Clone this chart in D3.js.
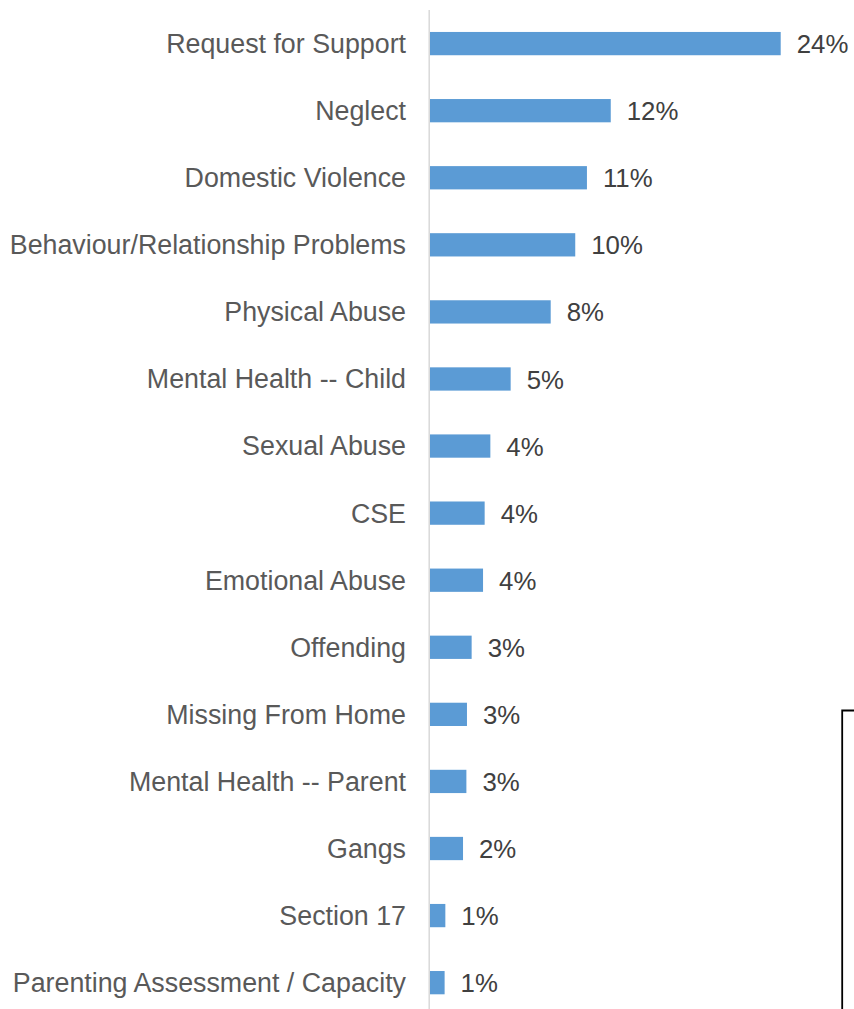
<!DOCTYPE html>
<html>
<head>
<meta charset="utf-8">
<script src="https://cdn.jsdelivr.net/npm/d3@7"></script>
<style>
  html, body { margin: 0; padding: 0; background: #fff; }
  svg { display: block; }
  text { font-family: "Liberation Sans", Arial, sans-serif; }
</style>
</head>
<body>
<svg id="chart" width="854" height="1009"></svg>
<script>
// Data
const categories = [
  "Request for Support",
  "Neglect",
  "Domestic Violence",
  "Behaviour/Relationship Problems",
  "Physical Abuse",
  "Mental Health -- Child",
  "Sexual Abuse",
  "CSE",
  "Emotional Abuse",
  "Offending",
  "Missing From Home",
  "Mental Health -- Parent",
  "Gangs",
  "Section 17",
  "Parenting Assessment / Capacity"
];
const values = [24.0, 12.37, 10.74, 9.94, 8.26, 5.52, 4.13, 3.74, 3.63, 2.85, 2.53, 2.49, 2.26, 1.05, 1.0];
const valueLabels = ["24%", "12%", "11%", "10%", "8%", "5%", "4%", "4%", "4%", "3%", "3%", "3%", "2%", "1%", "1%"];

const svg = d3.select("#chart");
const x0 = 430;

const x = d3.scaleLinear().domain([0, 24]).range([x0, 780.7]);
const y = d3.scaleBand()
  .domain(categories)
  .range([10.06, 1016.2])
  .paddingInner(0.653)
  .paddingOuter(0.3265);

// bars
svg.append("g").selectAll("rect")
  .data(categories)
  .join("rect")
  .attr("x", x(0))
  .attr("y", d => y(d))
  .attr("width", (d, i) => x(values[i]) - x(0))
  .attr("height", y.bandwidth())
  .attr("fill", "#5b9bd5");

// vertical axis line
svg.append("line")
  .attr("x1", 429.2).attr("x2", 429.2)
  .attr("y1", 10).attr("y2", 1009)
  .attr("stroke", "#d9d9d9")
  .attr("stroke-width", 1.5);

// category labels
svg.append("g").selectAll("text")
  .data(categories)
  .join("text")
  .attr("x", 406)
  .attr("y", d => y(d) + y.bandwidth() / 2)
  .attr("dy", "0.35em")
  .attr("text-anchor", "end")
  .attr("font-size", "26.8px")
  .attr("fill", "#595959")
  .text(d => d);

// value labels
svg.append("g").selectAll("text")
  .data(categories)
  .join("text")
  .attr("x", (d, i) => x(values[i]) + 16)
  .attr("y", d => y(d) + y.bandwidth() / 2)
  .attr("dy", "0.37em")
  .attr("font-size", "25.8px")
  .attr("fill", "#404040")
  .text((d, i) => valueLabels[i]);

// clipped box border at bottom right
svg.append("path")
  .attr("d", "M854,710.5 L842.2,710.5 L842.2,1009")
  .attr("fill", "none")
  .attr("stroke", "#000")
  .attr("stroke-width", 1.8);
</script>
</body>
</html>
